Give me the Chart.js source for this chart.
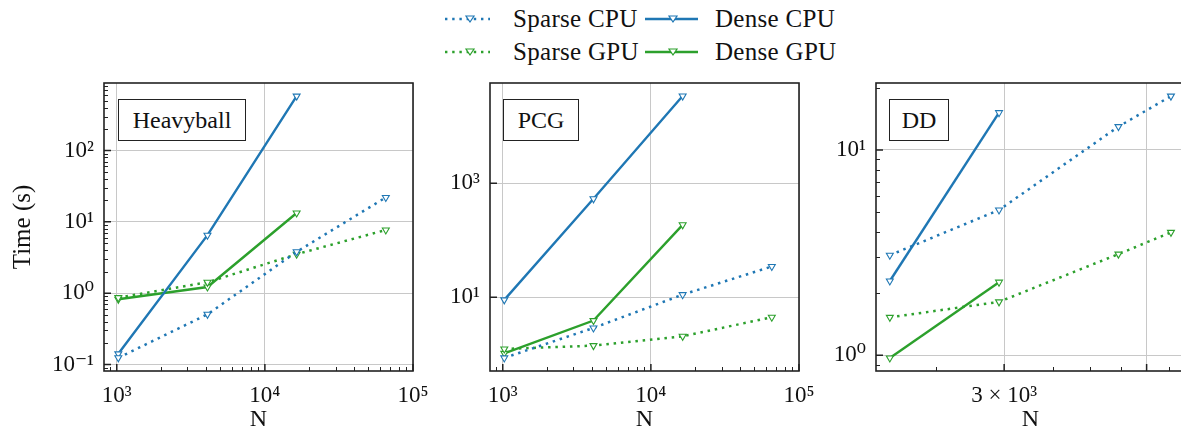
<!DOCTYPE html>
<html>
<head>
<meta charset="utf-8">
<script src="https://cdn.jsdelivr.net/npm/chart.js@4.4.1/dist/chart.umd.min.js"></script>
<style>
  body { margin: 0; width: 1181px; height: 434px; background: #fff; position: relative; overflow: hidden;
         font-family: "Liberation Serif", "DejaVu Serif", serif; color: #111; }
  .panel { position: absolute; top: 70px; height: 364px; }
  .tag { position: absolute; top: 99px; height: 42px; border: 1.3px solid #222; background: #fff;
         font-size: 24px; display: flex; align-items: center; justify-content: center; box-sizing: border-box; }
  .lt { position: absolute; font-size: 25px; line-height: 28px; white-space: nowrap; letter-spacing: 0.3px; }
</style>
</head>
<body>
<svg id="leg" width="1181" height="70" style="position:absolute;left:0;top:0"></svg>
<div class="lt" style="left:513px;top:5px">Sparse CPU</div>
<div class="lt" style="left:715px;top:5px">Dense CPU</div>
<div class="lt" style="left:513px;top:38px">Sparse GPU</div>
<div class="lt" style="left:715px;top:38px">Dense GPU</div>

<div class="panel" style="left:0;width:434px"><canvas id="c1"></canvas></div>
<div class="panel" style="left:420px;width:400px"><canvas id="c2"></canvas></div>
<div class="panel" style="left:806px;width:384px"><canvas id="c3"></canvas></div>

<div class="tag" style="left:118px;width:128px">Heavyball</div>
<div class="tag" style="left:503px;width:76px">PCG</div>
<div class="tag" style="left:889px;width:60px">DD</div>

<script>
// problem sizes
const N = [1024, 4096, 16384, 65536];
const N_DD = [1520, 2910, 5920, 8090];

// Heavyball timings (s)
const hbSparseCPU = [0.124, 0.505, 3.8, 22];
const hbDenseCPU = [0.141, 6.5, 580];
const hbSparseGPU = [0.865, 1.42, 3.52, 7.7];
const hbDenseGPU = [0.82, 1.22, 13.3];

// PCG timings (s)
const pcgSparseCPU = [0.865, 2.9, 11.1, 34.6];
const pcgDenseCPU = [9.0, 532, 33600];
const pcgSparseGPU = [1.24, 1.42, 2.07, 4.46];
const pcgDenseGPU = [1.04, 3.9, 186];

// DD timings (s)
const ddSparseCPU = [3.07, 5.10, 13.0, 18.3];
const ddDenseCPU = [2.30, 15.2];
const ddSparseGPU = [1.53, 1.82, 3.11, 3.97];
const ddDenseGPU = [0.97, 2.27];

// tick labels
const xTicks = [1e3, 1e4, 1e5];
const xLabels = ['10³', '10⁴', '10⁵'];
const hbYTicks = [0.1, 1, 10, 100];
const hbYLabels = ['10⁻¹', '10⁰', '10¹', '10²'];
const pcgYTicks = [10, 1000];
const pcgYLabels = ['10¹', '10³'];
const ddYTicks = [1, 10];
const ddYLabels = ['10⁰', '10¹'];
const ddXTicks = [3000, 7000];
const ddXLabels = ['3 × 10³', ''];

const BLUE = '#1f77b4', GREEN = '#2ca02c';
const FONT = "'Liberation Serif', 'DejaVu Serif', serif";
Chart.defaults.font.family = FONT;
Chart.defaults.font.size = 24;
Chart.defaults.color = '#111';

// legend samples
const leg = document.getElementById('leg');
const legRows = [
  { y: 19, color: BLUE },
  { y: 52, color: GREEN }
];
let svg = '';
legRows.forEach(r => {
  svg += `<line x1="445" y1="${r.y}" x2="490" y2="${r.y}" stroke="${r.color}" stroke-width="2.4" stroke-dasharray="2.4 4.8"/>`;
  svg += `<polygon points="466,${r.y - 3} 474,${r.y - 3} 470,${r.y + 3}" fill="#fff" stroke="${r.color}" stroke-width="1.2"/>`;
  svg += `<line x1="645" y1="${r.y}" x2="698" y2="${r.y}" stroke="${r.color}" stroke-width="2.6"/>`;
  svg += `<polygon points="669,${r.y - 3} 677,${r.y - 3} 673,${r.y + 3}" fill="#fff" stroke="${r.color}" stroke-width="1.2"/>`;
});
leg.innerHTML = svg;

function minorTicks(min, max) {
  const out = [];
  for (let e = Math.floor(Math.log10(min)); e <= Math.ceil(Math.log10(max)); e++) {
    for (let m = 2; m <= 9; m++) {
      const v = m * Math.pow(10, e);
      if (v >= min && v <= max) out.push(v);
    }
  }
  return out;
}

const frame = {
  id: 'frame',
  afterDraw(chart, args, o) {
    const { ctx, chartArea: a, scales: { x, y } } = chart;
    ctx.save();
    ctx.strokeStyle = '#222';
    ctx.lineWidth = 1;
    ctx.beginPath();
    o.xMinor.forEach(v => { const p = Math.round(x.getPixelForValue(v)) + 0.5; ctx.moveTo(p, a.bottom); ctx.lineTo(p, a.bottom - 4); });
    o.yMinor.forEach(v => { const p = Math.round(y.getPixelForValue(v)) + 0.5; ctx.moveTo(a.left, p); ctx.lineTo(a.left + 4, p); });
    ctx.stroke();
    ctx.lineWidth = 1.5;
    ctx.beginPath();
    o.xMajor.forEach(v => { const p = x.getPixelForValue(v); ctx.moveTo(p, a.bottom); ctx.lineTo(p, a.bottom - 7); });
    o.yMajor.forEach(v => { const p = y.getPixelForValue(v); ctx.moveTo(a.left, p); ctx.lineTo(a.left + 7, p); });
    ctx.stroke();
    ctx.lineWidth = 1.6;
    ctx.strokeRect(a.left, a.top, a.right - a.left, a.bottom - a.top);
    ctx.restore();
  }
};

function series(xs, ys, color, dotted) {
  return {
    data: ys.map((v, i) => ({ x: xs[i], y: v })),
    borderColor: color,
    backgroundColor: '#fff',
    borderWidth: dotted ? 2.5 : 2.4,
    borderDash: dotted ? [2.5, 4.8] : [],
    pointStyle: 'triangle',
    rotation: 180,
    pointRadius: 4,
    pointBorderWidth: 1.1,
    pointBackgroundColor: '#fff',
    pointBorderColor: color,
    tension: 0
  };
}

function makeChart(id, cfg) {
  const mapLabel = (ticks, labels) => v => { const i = ticks.findIndex(t => Math.abs(t - v) / t < 1e-6); return i < 0 ? '' : labels[i]; };
  new Chart(document.getElementById(id), {
    type: 'line',
    data: { datasets: cfg.datasets },
    options: {
      responsive: true,
      maintainAspectRatio: false,
      animation: false,
      layout: { padding: { top: 13, right: cfg.padRight, left: 0, bottom: 0 } },
      plugins: {
        legend: { display: false },
        tooltip: { enabled: false },
        frame: {
          xMajor: cfg.xTicks, xMinor: minorTicks(cfg.xMin, cfg.xMax).filter(v => !cfg.xTicks.includes(v)),
          yMajor: cfg.yTicks, yMinor: cfg.yMinor ? minorTicks(cfg.yMin, cfg.yMax) : []
        }
      },
      scales: {
        x: {
          type: 'logarithmic', min: cfg.xMin, max: cfg.xMax,
          afterBuildTicks: s => { s.ticks = cfg.xTicks.map(v => ({ value: v })); },
          afterFit: s => { s.height = 63; s.paddingLeft = 0; s.paddingRight = 0; },
          ticks: { autoSkip: false, maxRotation: 0, padding: 11, font: { size: 23 }, callback: mapLabel(cfg.xTicks, cfg.xLabels) },
          grid: { color: '#c8c8c8', lineWidth: 1, drawTicks: false },
          border: { display: false },
          title: { display: true, text: 'N', padding: { top: 0, bottom: 0 } }
        },
        y: {
          type: 'logarithmic', min: cfg.yMin, max: cfg.yMax,
          afterBuildTicks: s => { s.ticks = cfg.yTicks.map(v => ({ value: v })); },
          afterFit: s => { s.width = cfg.yWidth; s.paddingTop = 0; s.paddingBottom = 0; },
          ticks: { autoSkip: false, padding: 10, font: { size: 23 }, callback: mapLabel(cfg.yTicks, cfg.yLabels) },
          grid: { color: '#c8c8c8', lineWidth: 1, drawTicks: false },
          border: { display: false },
          title: { display: !!cfg.yTitle, text: cfg.yTitle || '', font: { size: 25 }, padding: { top: 8, bottom: 0 } }
        }
      }
    },
    plugins: [frame]
  });
}

makeChart('c1', {
  datasets: [
    series(N, hbSparseCPU, BLUE, true),
    series(N, hbDenseCPU, BLUE, false),
    series(N, hbSparseGPU, GREEN, true),
    series(N, hbDenseGPU, GREEN, false)
  ],
  xMin: 820, xMax: 100000, yMin: 0.081, yMax: 885,
  xTicks, xLabels, yTicks: hbYTicks, yLabels: hbYLabels, yMinor: true,
  yWidth: 104, padRight: 21, yTitle: 'Time (s)'
});

makeChart('c2', {
  datasets: [
    series(N, pcgSparseCPU, BLUE, true),
    series(N, pcgDenseCPU, BLUE, false),
    series(N, pcgSparseGPU, GREEN, true),
    series(N, pcgDenseGPU, GREEN, false)
  ],
  xMin: 820, xMax: 100000, yMin: 0.51, yMax: 56900,
  xTicks, xLabels, yTicks: pcgYTicks, yLabels: pcgYLabels, yMinor: false,
  yWidth: 70, padRight: 21
});

makeChart('c3', {
  datasets: [
    series(N_DD, ddSparseCPU, BLUE, true),
    series(N_DD, ddDenseCPU, BLUE, false),
    series(N_DD, ddSparseGPU, GREEN, true),
    series(N_DD, ddDenseGPU, GREEN, false)
  ],
  xMin: 1400, xMax: 8790, yMin: 0.838, yMax: 21.2,
  xTicks: ddXTicks, xLabels: ddXLabels, yTicks: ddYTicks, yLabels: ddYLabels, yMinor: true,
  yWidth: 70, padRight: 5
});
</script>
</body>
</html>
